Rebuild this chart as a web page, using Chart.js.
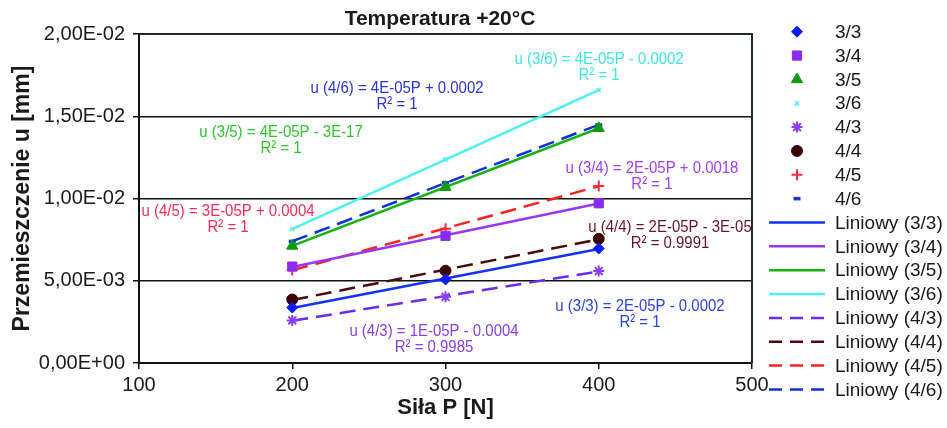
<!DOCTYPE html>
<html>
<head>
<meta charset="utf-8">
<script src="https://cdn.jsdelivr.net/npm/chart.js@4.4.1/dist/chart.umd.min.js"></script>
<style>
  body { margin: 0; background: #fff; }
  #wrap { width: 947px; height: 428px; }
</style>
</head>
<body>
<div id="wrap"><canvas id="chart" width="947" height="428"></canvas></div>
<script>
// Siła P [N] and displacement u [mm] per series
const sila = [200, 300, 400];
const u33 = [0.00337, 0.00508, 0.00696];
const u34 = [0.00586, 0.00773, 0.00971];
const u35 = [0.00712, 0.01069, 0.01427];
const u36 = [0.00814, 0.01237, 0.01659];
const u43 = [0.00259, 0.00402, 0.00559];
const u44 = [0.00386, 0.00561, 0.00755];
const u45 = [0.00565, 0.00816, 0.01076];
const u46 = [0.00739, 0.01096, 0.01447];

const names = ["3/3", "3/4", "3/5", "3/6", "4/3", "4/4", "4/5", "4/6"];
const values = [u33, u34, u35, u36, u43, u44, u45, u46];

const xTicks = [100, 200, 300, 400, 500];
const yTicks = [0, 0.005, 0.01, 0.015, 0.02];

const equations = [
    "u (3/3) = 2E-05P - 0.0002",
    "u (3/4) = 2E-05P + 0.0018",
    "u (3/5) = 4E-05P - 3E-17",
    "u (3/6) = 4E-05P - 0.0002",
    "u (4/3) = 1E-05P - 0.0004",
    "u (4/4) = 2E-05P - 3E-05",
    "u (4/5) = 3E-05P + 0.0004",
    "u (4/6) = 4E-05P + 0.0002"
];
const r2 = ["R² = 1", "R² = 1", "R² = 1", "R² = 1", "R² = 0.9985", "R² = 0.9991", "R² = 1", "R² = 1"];

// styles
const markerColors = ["#0b1cf2", "#8a2cf0", "#0c9c0c", "#52efe6", "#8a3cff", "#3a0000", "#ff2a3a", "#1e34e0"];
const lineColors = ["#1432f5", "#9838f5", "#12b412", "#4cf2ee", "#6a2cf5", "#4a0a0a", "#ff2020", "#1230e0"];
const labelColors = ["#2c44e0", "#a23cff", "#2ec82e", "#3ee8e0", "#8a3ee8", "#6b1426", "#ff2b55", "#2a34d8"];
const markerStyles = ["rectRot", "rect", "triangle", "crossRot", "star", "circle", "cross", "line"];
const markerRadius = [5.5, 6.5, 6.5, 3, 5.5, 5.5, 5.5, 3.5];
const markerBorder = [1, 1, 1, 1.5, 2, 1, 2, 3.5];
// label anchors in data units (centre of first line)
const labelAt = [[426.9, 0.00347], [434.7, 0.01185], [192.7, 0.01404], [400.2, 0.01848],
                 [292.5, 0.00195], [446.5, 0.00827], [158.1, 0.00924], [268.4, 0.01672]];

const FONT = "'Liberation Sans', Arial, sans-serif";

function linFit(xs, ys) {
    const n = xs.length;
    const mx = xs.reduce((s, v) => s + v, 0) / n;
    const my = ys.reduce((s, v) => s + v, 0) / n;
    let sxy = 0, sxx = 0;
    for (let k = 0; k < n; k++) {
        sxy += (xs[k] - mx) * (ys[k] - my);
        sxx += (xs[k] - mx) * (xs[k] - mx);
    }
    const b = sxy / sxx;
    return { a: my - b * mx, b: b };
}

function sci(v) {
    if (Math.abs(v) < 1e-12) return "0,00E+00";
    const parts = v.toExponential(2).split("e");
    const e = parseInt(parts[1]);
    return parts[0].replace(".", ",") + "E" + (e < 0 ? "-" : "+") + String(Math.abs(e)).padStart(2, "0");
}

const markerSets = names.map((n, i) => ({
    label: n,
    data: sila.map((p, k) => ({ x: p, y: values[i][k] })),
    showLine: false,
    pointStyle: markerStyles[i],
    pointRadius: markerRadius[i],
    pointBorderWidth: markerBorder[i],
    backgroundColor: markerColors[i],
    borderColor: markerColors[i],
    order: 0
}));

const trendSets = names.map((n, i) => {
    const fit = linFit(sila, values[i]);
    const ends = [sila[0], sila[sila.length - 1]];
    return {
        label: "Liniowy (" + n + ")",
        data: ends.map(p => ({ x: p, y: fit.a + fit.b * p })),
        showLine: true,
        pointRadius: 0,
        borderColor: lineColors[i],
        borderWidth: 2.5,
        borderDash: i >= 4 ? [16, 8] : [],
        order: 1
    };
});

function drawMarker(ctx, i, x, y) {
    ctx.save();
    ctx.fillStyle = markerColors[i];
    ctx.strokeStyle = markerColors[i];
    ctx.lineWidth = markerBorder[i];
    Chart.helpers.drawPoint(ctx, {
        pointStyle: markerStyles[i],
        radius: markerRadius[i],
        borderWidth: markerBorder[i],
        rotation: 0
    }, x, y);
    ctx.restore();
}

const overlay = {
    id: "overlay",
    beforeDatasetsDraw(chart) {
        const { ctx, chartArea } = chart;
        ctx.save();
        ctx.strokeStyle = "#1d2b2b";
        ctx.lineWidth = 2;
        ctx.beginPath();
        ctx.moveTo(chartArea.left, chartArea.top);
        ctx.lineTo(chartArea.right, chartArea.top);
        ctx.lineTo(chartArea.right, chartArea.bottom);
        ctx.stroke();
        ctx.restore();
    },
    afterDraw(chart) {
        const { ctx, scales } = chart;
        ctx.save();

        // title
        ctx.fillStyle = "#1a1a1a";
        ctx.font = "bold 21px " + FONT;
        ctx.textAlign = "center";
        ctx.textBaseline = "middle";
        ctx.fillText("Temperatura +20°C", 440, 19);

        // trendline equations
        ctx.font = "17px " + FONT;
        equations.forEach((eq, i) => {
            const px = scales.x.getPixelForValue(labelAt[i][0]);
            const py = scales.y.getPixelForValue(labelAt[i][1]);
            ctx.fillStyle = labelColors[i];
            ctx.save();
            ctx.translate(px, py);
            ctx.scale(0.88, 1);
            ctx.fillText(eq, 0, 0);
            ctx.fillText(r2[i], 0, 16.5);
            ctx.restore();
        });

        // legend
        ctx.textAlign = "left";
        ctx.font = "19px " + FONT;
        const rowH = 23.85;
        names.forEach((n, i) => {
            const y = 31.7 + i * rowH;
            drawMarker(ctx, i, 797, y);
            ctx.fillStyle = "#1a1a1a";
            ctx.fillText(n, 835, y + 1);
        });
        names.forEach((n, i) => {
            const y = 31.7 + (8 + i) * rowH;
            ctx.save();
            ctx.strokeStyle = lineColors[i];
            ctx.lineWidth = 2.5;
            ctx.setLineDash(i >= 4 ? [13, 8] : []);
            ctx.beginPath();
            ctx.moveTo(769, y);
            ctx.lineTo(825, y);
            ctx.stroke();
            ctx.restore();
            ctx.fillStyle = "#1a1a1a";
            ctx.fillText("Liniowy (" + n + ")", 835, y + 1);
        });
        ctx.restore();
    }
};

Chart.defaults.font.family = FONT;
Chart.defaults.color = "#1a1a1a";

new Chart(document.getElementById("chart").getContext("2d"), {
    type: "scatter",
    data: { datasets: markerSets.concat(trendSets) },
    options: {
        responsive: false,
        animation: false,
        devicePixelRatio: 1,
        layout: { padding: { top: 34, right: 195, left: 0, bottom: 0 } },
        plugins: {
            legend: { display: false },
            tooltip: { enabled: false }
        },
        scales: {
            x: {
                type: "linear",
                min: xTicks[0],
                max: xTicks[xTicks.length - 1],
                afterFit: s => { s.height = 65; },
                afterBuildTicks: s => { s.ticks = xTicks.map(v => ({ value: v })); },
                ticks: { font: { size: 20 }, padding: 4, color: "#1a1a1a" },
                grid: { drawOnChartArea: false, tickLength: 6, color: "#111", lineWidth: 1.5 },
                border: { color: "#111", width: 2 },
                title: {
                    display: true,
                    text: "Siła P [N]",
                    font: { size: 22, weight: "bold" },
                    padding: { top: 0, bottom: 7 },
                    color: "#1a1a1a"
                }
            },
            y: {
                type: "linear",
                min: yTicks[0],
                max: yTicks[yTicks.length - 1],
                afterFit: s => { s.width = 139; },
                afterBuildTicks: s => { s.ticks = yTicks.map(v => ({ value: v })); },
                ticks: { font: { size: 20 }, padding: 8, color: "#1a1a1a", callback: v => sci(v) },
                grid: { color: "#111", lineWidth: 1.5, tickLength: 6, tickColor: "#111" },
                border: { color: "#111", width: 2 },
                title: {
                    display: true,
                    text: "Przemieszczenie u [mm]",
                    font: { size: 23, weight: "bold" },
                    padding: { top: 9, bottom: 0 },
                    color: "#1a1a1a"
                }
            }
        }
    },
    plugins: [overlay]
});
</script>
</body>
</html>
